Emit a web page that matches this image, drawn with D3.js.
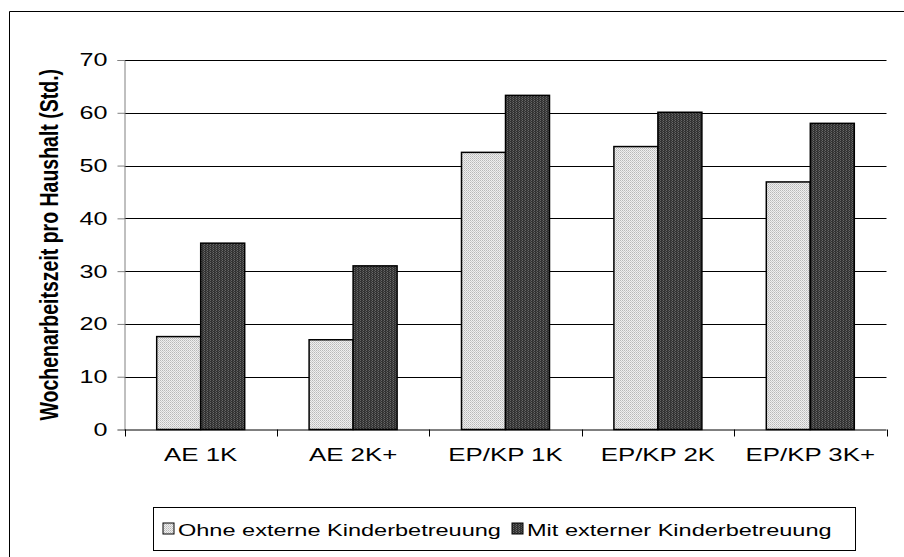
<!DOCTYPE html>
<html><head><meta charset="utf-8">
<script src="https://cdn.jsdelivr.net/npm/d3@7/dist/d3.min.js"></script>
<style>body{margin:0;background:#fff}svg{display:block}text{font-family:"Liberation Sans",Arial,sans-serif}</style>
</head><body><div id="c"></div>
<script>
const categories = ["AE 1K","AE 2K+","EP/KP 1K","EP/KP 2K","EP/KP 3K+"];
const seriesNames = ["Ohne externe Kinderbetreuung","Mit externer Kinderbetreuung"];
const ohne = [17.6, 17.0, 52.5, 53.6, 46.9];
const mit = [35.3, 31.0, 63.3, 60.1, 58.0];
const yTicks = [0,10,20,30,40,50,60,70];

const W=904,H=557,SX=1.36;
const svg=d3.select("#c").append("svg").attr("width",W).attr("height",H);
const defs=svg.append("defs");
const pl=defs.append("pattern").attr("id","pl").attr("width",2).attr("height",2).attr("patternUnits","userSpaceOnUse");
pl.append("rect").attr("width",2).attr("height",2).attr("fill","#efefef");
pl.append("rect").attr("width",1).attr("height",1).attr("fill","#b8b8b8");
pl.append("rect").attr("x",1).attr("y",1).attr("width",1).attr("height",1).attr("fill","#cccccc");
const pd=defs.append("pattern").attr("id","pd").attr("width",3).attr("height",2).attr("patternUnits","userSpaceOnUse");
pd.append("rect").attr("width",3).attr("height",2).attr("fill","#333333");
pd.append("rect").attr("width",1).attr("height",1).attr("fill","#686868");
pd.append("rect").attr("x",2).attr("y",1).attr("width",1).attr("height",1).attr("fill","#555555");
const fills=["url(#pl)","url(#pd)"];

// outer border
svg.append("path").attr("d",`M9.5,${H+2}V11.5H${W+2}`).attr("fill","none").attr("stroke","#000").attr("stroke-width",1);

const x0=124.5,x1=886.5,yTop=60,yBot=429.5;
const x=d3.scaleBand().domain(categories).range([x0,x1]).paddingInner(0.4226).paddingOuter(0.2113);
const xs=d3.scaleBand().domain([0,1]).range([0,x.bandwidth()]);
const y=d3.scaleLinear().domain([0,70]).range([yBot,yTop]);

// gridlines
svg.append("g").selectAll("line").data(yTicks.filter(d=>d>0)).join("line")
  .attr("x1",x0).attr("x2",x1).attr("y1",d=>Math.round(y(d))+0.5).attr("y2",d=>Math.round(y(d))+0.5)
  .attr("stroke","#000").attr("stroke-width",1);

// bars
const data=categories.map((c,i)=>({c,v:[ohne[i],mit[i]]}));
const g=svg.append("g");
data.forEach(d=>{
  d.v.forEach((v,j)=>{
    g.append("rect").attr("x",x(d.c)+xs(j)).attr("y",y(v)).attr("width",xs.bandwidth()).attr("height",y(0)-y(v))
     .attr("fill",fills[j]).attr("stroke","#000").attr("stroke-width",1.5);
  });
});

// y axis
const ya=d3.axisLeft(y).tickValues(yTicks).tickSize(7).tickPadding(10).tickFormat(d3.format("d"));
const yg=svg.append("g").attr("transform",`translate(${x0},0)`).call(ya);
yg.select(".domain").attr("stroke","#808080");
yg.selectAll(".tick line").attr("stroke","#808080");
yg.selectAll(".tick text").attr("font-size",18.5).attr("fill","#000").attr("font-family","Liberation Sans, Arial, sans-serif")
  .attr("x",0).attr("transform",`translate(-17,0) scale(${SX},1)`);

// x axis
const xg=svg.append("g").attr("transform",`translate(0,${yBot})`);
xg.append("line").attr("x1",x0).attr("x2",x1).attr("y1",0.5).attr("y2",0.5).attr("stroke","#000");
const bounds=d3.range(categories.length+1).map(i=>x0+i*x.step());
xg.selectAll("line.t").data(bounds).join("line").attr("class","t")
  .attr("x1",d=>Math.round(d)+0.5).attr("x2",d=>Math.round(d)+0.5).attr("y1",0).attr("y2",7).attr("stroke","#000");
xg.selectAll("text").data(categories).join("text")
  .attr("transform",d=>`translate(${x(d)+x.bandwidth()/2},31) scale(${SX},1)`)
  .attr("text-anchor","middle").attr("font-size",19).text(d=>d);

// y label
svg.append("text").attr("transform",`translate(58,${(yTop+yBot)/2}) scale(${SX},1) rotate(-90)`)
  .attr("text-anchor","middle").attr("font-size",19.5).attr("font-weight","bold").text("Wochenarbeitszeit pro Haushalt (Std.)");

// legend
const lg=svg.append("g");
lg.append("rect").attr("x",153.5).attr("y",507.5).attr("width",702).attr("height",43).attr("fill","#fff").attr("stroke","#000");
const itemX=[163,512];
seriesNames.forEach((s,j)=>{
  lg.append("rect").attr("x",itemX[j]).attr("y",523).attr("width",11).attr("height",11).attr("fill",fills[j]).attr("stroke","#000").attr("stroke-width",1);
  lg.append("text").attr("transform",`translate(${itemX[j]+15},536) scale(${SX},1)`).attr("font-size",17.3).text(s);
});
</script></body></html>
